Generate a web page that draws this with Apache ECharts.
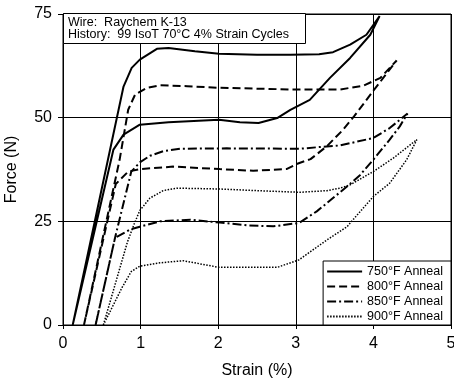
<!DOCTYPE html>
<html>
<head>
<meta charset="utf-8">
<script src="https://cdn.jsdelivr.net/npm/echarts@6/dist/echarts.min.js"></script>
<style>
  html, body { margin: 0; padding: 0; background: #fff; }
  #chart { width: 454px; height: 378px; }
</style>
</head>
<body>
<div id="chart"></div>
<script>
// strain (%) / force (N), each curve as one loading + unloading loop
const strain750 = [0.125, 0.78, 0.885, 0.99, 1.21, 1.36, 1.7, 2.01, 2.5, 2.93, 3.3, 3.48, 3.70, 3.91, 4.08,
  3.96, 3.70, 3.44, 3.18, 2.93, 2.76, 2.52, 2.28, 2.01, 1.36, 0.99, 0.78, 0.65, 0.125];
const force750 = [0, 57.5, 62, 64, 66.6, 66.8, 66, 65.4, 65.2, 65.2, 65.3, 65.8, 67.6, 70, 74.5,
  70, 64.4, 59.6, 54.3, 51.9, 49.9, 48.7, 48.9, 49.5, 48.9, 48.3, 45.9, 42.3, 0];

const strain800 = [0.27, 0.73, 0.84, 0.93, 1.08, 1.25, 1.6, 2.01, 2.5, 2.93, 3.57, 3.87, 4.09, 4.30,
  4.0, 3.75, 3.61, 3.40, 3.19, 3.02, 2.88, 2.45, 2.02, 1.42, 0.99, 0.84, 0.68, 0.27];
const force800 = [0, 39.9, 51.9, 55.6, 57.2, 57.8, 57.6, 57.2, 57, 56.8, 56.8, 57.7, 59.6, 63.8,
  56.5, 50.3, 47.1, 43.1, 40, 38.9, 37.6, 37.2, 37.6, 38.2, 37.6, 37, 34, 0];

const strain850 = [0.42, 0.67, 0.88, 0.99, 1.12, 1.29, 1.51, 2.11, 3.05, 3.36, 3.57, 4.0, 4.21, 4.44,
  4.34, 4.21, 4.0, 3.83, 3.66, 3.27, 3.04, 2.71, 2.4, 2.02, 1.64, 1.25, 0.99, 0.86, 0.67, 0.42];
const force850 = [0, 21, 37, 39.2, 40.8, 41.9, 42.5, 42.6, 42.5, 43, 43.3, 45.1, 47.5, 51,
  47.9, 44.7, 39.9, 36.2, 33.4, 27.4, 24.6, 23.8, 24, 24.7, 25.4, 25, 23.7, 23, 21, 0];

const strain900 = [0.52, 0.83, 0.92, 0.99, 1.12, 1.29, 1.47, 2.02, 2.5, 3.05, 3.40, 3.57, 3.70, 4.0, 4.26, 4.56,
  4.43, 4.21, 4.0, 3.78, 3.66, 3.40, 3.04, 2.76, 2.4, 2.01, 1.55, 1.25, 0.99, 0.88, 0.76, 0.52];
const force900 = [0, 20, 24.5, 27.6, 30.6, 32.4, 33, 32.8, 32.4, 32, 32.4, 33, 33.8, 37, 40.3, 44.7,
  39.9, 34.2, 31, 26.3, 23.7, 20.5, 15.7, 13.9, 13.9, 13.9, 15.5, 15, 14.2, 12.9, 9, 0];

const seriesNames = ['750°F Anneal', '800°F Anneal', '850°F Anneal', '900°F Anneal'];
const xTicks = [0, 1, 2, 3, 4, 5];
const yTicks = [0, 25, 50, 75];

const font = "'Liberation Sans', Arial, sans-serif";
const zip = (xs, ys) => xs.map((x, i) => [x, ys[i]]);

const chart = echarts.init(document.getElementById('chart'));

const lineSeries = (name, data, width, type) => ({
    name: name,
    type: 'line',
    data: data,
    symbol: 'none',
    smooth: false,
    lineStyle: { color: '#000', width: width, type: type },
    itemStyle: { color: '#000' }
});

const option = {
    animation: false,
    backgroundColor: '#fff',
    textStyle: { fontFamily: font },
    title: {
        text: 'Wire:  Raychem K-13\nHistory:  99 IsoT 70°C 4% Strain Cycles',
        left: 63,
        top: 14,
        padding: [3, 17, 2, 5],
        borderColor: '#000',
        borderWidth: 1,
        backgroundColor: '#fff',
        textStyle: { fontSize: 12.5, fontWeight: 'normal', color: '#000', lineHeight: 12, fontFamily: font }
    },
    legend: {
        data: seriesNames,
        orient: 'vertical',
        right: 3,
        bottom: 53,
        padding: [4, 8, 2, 3],
        itemWidth: 35,
        itemHeight: 10,
        itemGap: 2,
        borderColor: '#000',
        borderWidth: 1,
        backgroundColor: '#fff',
        itemStyle: { color: 'transparent', borderWidth: 0, opacity: 0 },
        textStyle: { fontSize: 12.5, color: '#000', fontFamily: font }
    },
    grid: {
        left: 63,
        right: 3,
        top: 14,
        bottom: 53,
        outerBoundsMode: 'none',
        containLabel: false,
        show: true,
        borderColor: '#000',
        borderWidth: 1
    },
    xAxis: {
        type: 'value',
        min: xTicks[0],
        max: xTicks[xTicks.length - 1],
        interval: 1,
        name: 'Strain (%)',
        nameLocation: 'middle',
        nameGap: 38,
        nameTextStyle: { fontSize: 16, color: '#000', fontFamily: font },
        axisLine: { lineStyle: { color: '#000', width: 1 } },
        axisTick: { show: true, length: 4, lineStyle: { color: '#000' } },
        axisLabel: { fontSize: 16, color: '#000', margin: 11, fontFamily: font },
        splitLine: { show: true, lineStyle: { color: '#000', width: 1 } }
    },
    yAxis: {
        type: 'value',
        min: yTicks[0],
        max: yTicks[yTicks.length - 1],
        interval: 25,
        name: 'Force (N)',
        nameLocation: 'middle',
        nameGap: 43,
        nameTextStyle: { fontSize: 16, color: '#000', fontFamily: font },
        axisLine: { show: true, lineStyle: { color: '#000', width: 1 } },
        axisTick: { show: true, length: 5, lineStyle: { color: '#000' } },
        axisLabel: { fontSize: 16, color: '#000', margin: 11, fontFamily: font },
        splitLine: { show: true, lineStyle: { color: '#000', width: 1 } }
    },
    series: [
        lineSeries(seriesNames[0], zip(strain750, force750), 2, 'solid'),
        lineSeries(seriesNames[1], zip(strain800, force800), 2, [8, 4]),
        lineSeries(seriesNames[2], zip(strain850, force850), 2, [9, 3, 2, 3]),
        lineSeries(seriesNames[3], zip(strain900, force900), 1.5, [1.5, 1.5])
    ]
};

chart.setOption(option);
</script>
</body>
</html>
